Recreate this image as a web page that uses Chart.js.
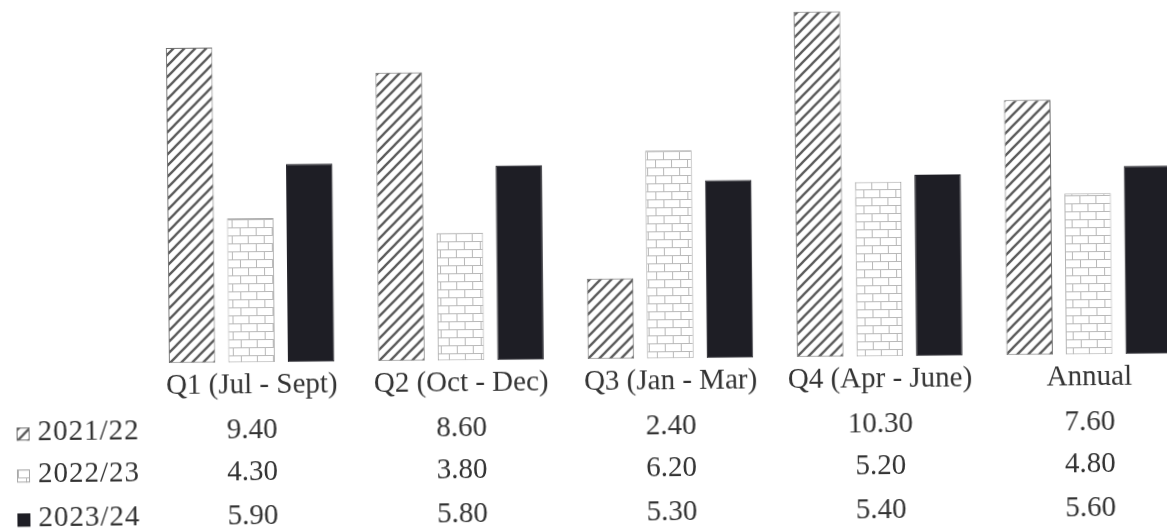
<!DOCTYPE html>
<html>
<head>
<meta charset="utf-8">
<title>Quarterly rates 2021/22 – 2023/24</title>
<script src="https://cdn.jsdelivr.net/npm/chart.js@4/dist/chart.umd.min.js"></script>
<style>
  html, body { margin: 0; padding: 0; background: #ffffff; overflow: hidden; }
  #wrap {
    width: 1200px; height: 529px;
    transform: rotate(-0.55deg);
    transform-origin: 583.5px 264.5px;
  }
  canvas { display: block; }
</style>
</head>
<body>
<div id="wrap"><canvas id="chart" width="1200" height="529"></canvas></div>
<script>
// Periods shown along the bottom
const categories = ['Q1 (Jul - Sept)', 'Q2 (Oct - Dec)', 'Q3 (Jan - Mar)', 'Q4 (Apr - June)', 'Annual'];

// One series per financial year
const seriesLabels = ['2021/22', '2022/23', '2023/24'];
const values2021 = [9.40, 8.60, 2.40, 10.30, 7.60];
const values2022 = [4.30, 3.80, 6.20, 5.20, 4.80];
const values2023 = [5.90, 5.80, 5.30, 5.40, 5.60];

const TEXT_COLOR = '#333333';
const FONT_FAMILY = '"Liberation Serif", "Times New Roman", serif';
const FONT_SIZE = 29;

// Diagonal "/" hatching on white
function makeHatch() {
  const s = 11;
  const c = document.createElement('canvas');
  c.width = s; c.height = s;
  const g = c.getContext('2d');
  g.fillStyle = '#ffffff';
  g.fillRect(0, 0, s, s);
  g.strokeStyle = '#5a5a5a';
  g.lineWidth = 2.3;
  g.beginPath();
  g.moveTo(-2, s + 2); g.lineTo(s + 2, -2);
  g.moveTo(-2, 2); g.lineTo(2, -2);
  g.moveTo(s - 2, s + 2); g.lineTo(s + 2, s - 2);
  g.stroke();
  return g.createPattern(c, 'repeat');
}

// Light brick wall pattern
function makeBrick() {
  const c = document.createElement('canvas');
  c.width = 16; c.height = 16;
  const g = c.getContext('2d');
  g.fillStyle = '#ffffff';
  g.fillRect(0, 0, 16, 16);
  g.strokeStyle = '#b8b8b8';
  g.lineWidth = 1;
  g.beginPath();
  g.moveTo(0, 0.5); g.lineTo(16, 0.5);
  g.moveTo(0, 8.5); g.lineTo(16, 8.5);
  g.moveTo(0.5, 0); g.lineTo(0.5, 8);
  g.moveTo(8.5, 8); g.lineTo(8.5, 16);
  g.stroke();
  return g.createPattern(c, 'repeat');
}

const hatch = makeHatch();
const brick = makeBrick();
const SOLID = '#1e1e25';

const seriesStyles = [
  { fill: hatch, border: '#6e6e6e' },
  { fill: brick, border: '#a8a8a8' },
  { fill: SOLID, border: SOLID }
];
const seriesValues = [values2021, values2022, values2023];

// Legend + value table drawn under the category labels
const tablePlugin = {
  id: 'valueTable',
  afterDraw(chart) {
    const ctx = chart.ctx;
    const xScale = chart.scales.x;
    const base = chart.chartArea.bottom;
    const rowOffsets = [68, 110, 154];
    ctx.save();
    ctx.font = FONT_SIZE + 'px ' + FONT_FAMILY;
    ctx.textBaseline = 'middle';
    seriesValues.forEach((vals, r) => {
      const y = base + rowOffsets[r];
      // legend swatch
      const st = seriesStyles[r];
      ctx.fillStyle = st.fill;
      ctx.fillRect(15, y - 5, 13, 13);
      ctx.strokeStyle = st.border;
      ctx.lineWidth = 1;
      ctx.strokeRect(15.5, y - 4.5, 12, 12);
      // series name
      ctx.fillStyle = TEXT_COLOR;
      ctx.textAlign = 'left';
      ctx.letterSpacing = '1px';
      ctx.fillText(seriesLabels[r], 36, y);
      ctx.letterSpacing = '0px';
      // values
      ctx.textAlign = 'center';
      vals.forEach((v, i) => {
        ctx.fillText(v.toFixed(2), xScale.getPixelForValue(i), y);
      });
    });
    ctx.restore();
  }
};

new Chart(document.getElementById('chart'), {
  type: 'bar',
  data: {
    labels: categories,
    datasets: seriesLabels.map((label, i) => ({
      label: label,
      data: seriesValues[i],
      backgroundColor: seriesStyles[i].fill,
      borderColor: seriesStyles[i].border,
      borderWidth: 1,
      borderSkipped: false,
      categoryPercentage: 0.853,
      barPercentage: 0.78
    }))
  },
  options: {
    responsive: false,
    animation: false,
    devicePixelRatio: 1,
    layout: { padding: { left: 146, right: 7, top: 7, bottom: 123 } },
    plugins: {
      legend: { display: false },
      tooltip: { enabled: false }
    },
    scales: {
      x: {
        grid: { display: false, drawTicks: false, tickLength: 0 },
        border: { display: false },
        ticks: {
          color: TEXT_COLOR,
          padding: 6,
          maxRotation: 0,
          autoSkip: false,
          font: { family: FONT_FAMILY, size: FONT_SIZE, lineHeight: 1.2 }
        }
      },
      y: {
        display: false,
        min: 0,
        max: 10.5
      }
    }
  },
  plugins: [tablePlugin]
});
</script>
</body>
</html>
